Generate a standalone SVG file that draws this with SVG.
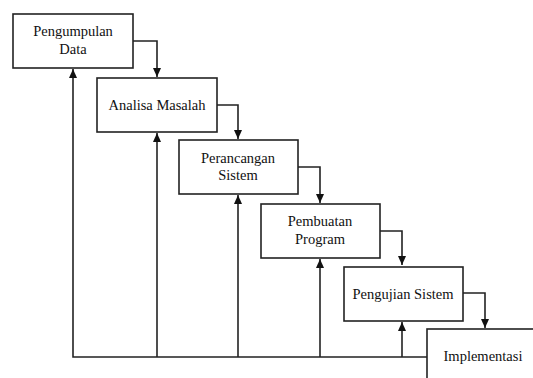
<svg xmlns="http://www.w3.org/2000/svg" width="533" height="378" viewBox="0 0 533 378">
<style>
.box{fill:#fff;stroke:#222;stroke-width:1.6}
.lbl{font-family:'Times New Roman','Liberation Serif',Tinos,serif;font-size:14.5px;fill:#111;text-anchor:middle}
.con{fill:none;stroke:#222;stroke-width:1.6}
</style>
<defs>
<marker id="ah" markerWidth="9" markerHeight="8" refX="9" refY="4" orient="auto" markerUnits="userSpaceOnUse" viewBox="0 0 9 8">
<path d="M0,0 L9,4 L0,8 Z" fill="#111"/>
</marker>
</defs>
<rect width="533" height="378" fill="#fff"/>
<g id="connectors">
<path class="con" d="M133,41 H157 V77" marker-end="url(#ah)"/>
<path class="con" d="M217,105 H238 V139" marker-end="url(#ah)"/>
<path class="con" d="M298,167 H320 V203" marker-end="url(#ah)"/>
<path class="con" d="M380,231 H402 V265" marker-end="url(#ah)"/>
<path class="con" d="M463,293 H485 V328" marker-end="url(#ah)"/>
<path class="con" d="M427,357 H73 V69" marker-end="url(#ah)"/>
<path class="con" d="M157,357 V133" marker-end="url(#ah)"/>
<path class="con" d="M238,357 V195" marker-end="url(#ah)"/>
<path class="con" d="M320,357 V259" marker-end="url(#ah)"/>
<path class="con" d="M402,357 V322" marker-end="url(#ah)"/>
</g>
<g id="n1">
<rect class="box" x="13" y="14" width="120" height="54"/>
<text class="lbl" x="73" y="36">Pengumpulan</text>
<text class="lbl" x="73" y="54">Data</text>
</g>
<g id="n2">
<rect class="box" x="97" y="78" width="120" height="54"/>
<text class="lbl" x="157" y="110">Analisa Masalah</text>
</g>
<g id="n3">
<rect class="box" x="179" y="140" width="119" height="54"/>
<text class="lbl" x="238" y="163">Perancangan</text>
<text class="lbl" x="238" y="180">Sistem</text>
</g>
<g id="n4">
<rect class="box" x="261" y="204" width="119" height="54"/>
<text class="lbl" x="320" y="226">Pembuatan</text>
<text class="lbl" x="320" y="244">Program</text>
</g>
<g id="n5">
<rect class="box" x="344" y="267" width="119" height="54"/>
<text class="lbl" x="403" y="299">Pengujian Sistem</text>
</g>
<g id="n6">
<rect class="box" x="427" y="329" width="120" height="60"/>
<text class="lbl" x="483" y="361">Implementasi</text>
</g>
</svg>
